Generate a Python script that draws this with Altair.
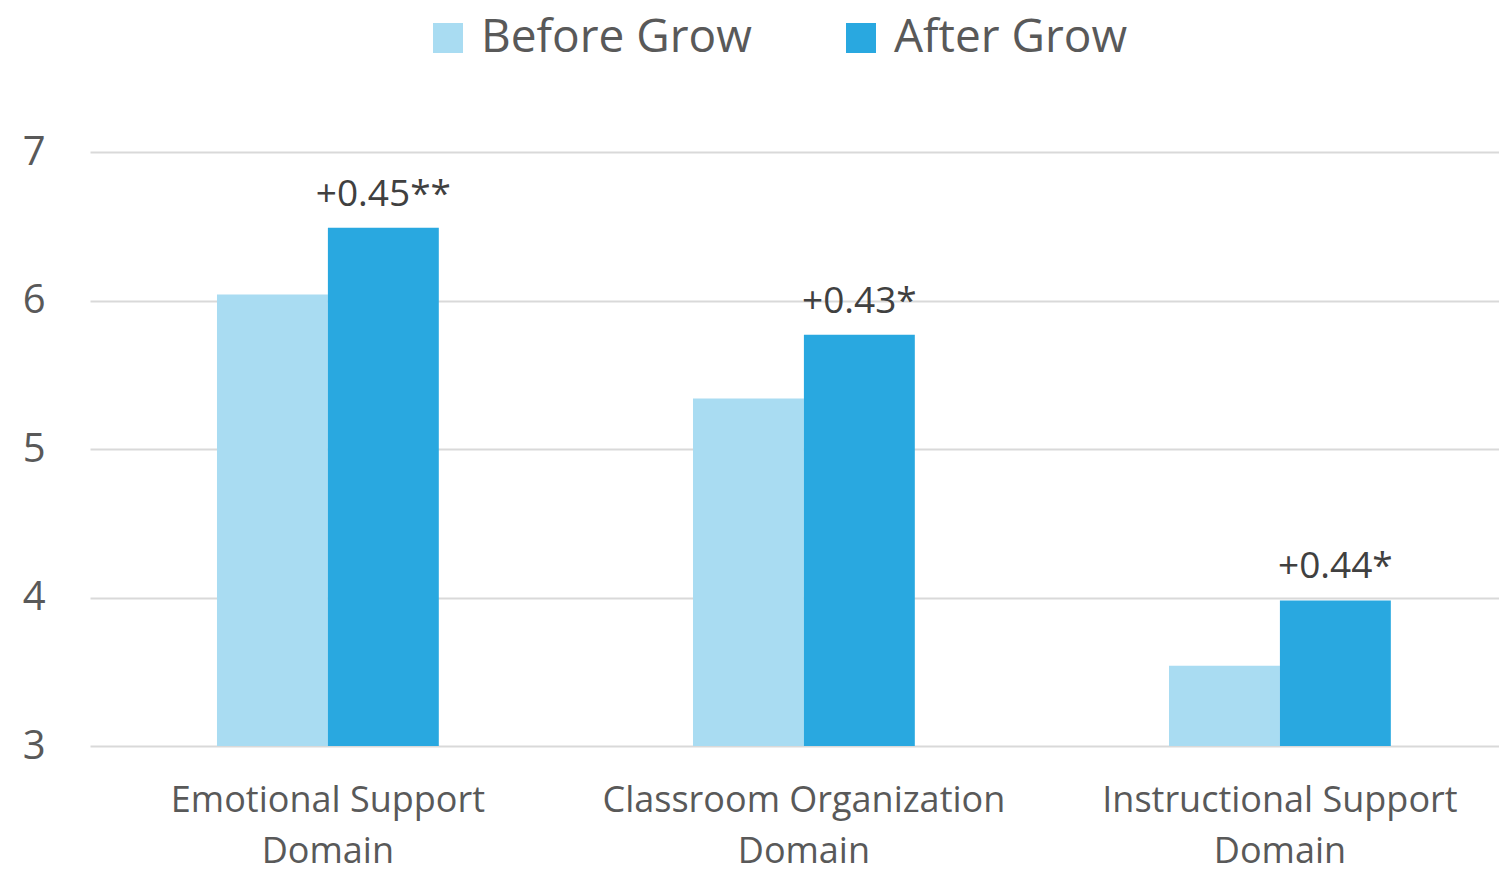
import altair as alt
import pandas as pd

categories = ["Emotional Support|Domain", "Classroom Organization|Domain", "Instructional Support|Domain"]
series = ["Before Grow", "After Grow"]
before = [6.04, 5.34, 3.54]
after = [6.49, 5.77, 3.98]
annotations = ["+0.45**", "+0.43*", "+0.44*"]
colors = ["#A9DCF2", "#29A8E0"]

rows = []
for c, b, a in zip(categories, before, after):
    rows.append({"cat": c, "series": series[0], "value": b})
    rows.append({"cat": c, "series": series[1], "value": a})
df = pd.DataFrame(rows)
ann = pd.DataFrame({"cat": categories, "series": [series[1]] * 3, "value": after, "label": annotations})

FONT = "Open Sans"
GRAY = "#595959"

x_enc = alt.X("cat:N", sort=categories, title=None,
              scale=alt.Scale(paddingInner=0.534, paddingOuter=0.247, align=0.54),
              axis=alt.Axis(labelExpr="split(datum.label, '|')", labelAngle=0,
                            labelFontSize=36, labelColor=GRAY, labelFont=FONT,
                            labelLineHeight=51, labelPadding=37, ticks=False,
                            labelLimit=0, domain=False, grid=False))
xoff = alt.XOffset("series:N", sort=series, scale=alt.Scale(domain=series, paddingInner=0, paddingOuter=0))
y_enc = alt.Y("value:Q", title=None,
              scale=alt.Scale(domain=[3, 7], nice=False, zero=False),
              axis=alt.Axis(values=[3, 4, 5, 6, 7], format="d", labelFontSize=40,
                            labelColor=GRAY, labelFont=FONT, labelPadding=45,
                            ticks=False, domain=False, gridColor="#D9D9D9",
                            gridWidth=2))

bars = alt.Chart(df).mark_bar(clip=True).encode(
    x=x_enc, xOffset=xoff, y=y_enc,
    color=alt.Color("series:N", sort=series,
                    scale=alt.Scale(domain=series, range=colors),
                    legend=alt.Legend(title=None, orient="none", legendX=335, legendY=-137,
                                      direction="horizontal", symbolType="square",
                                      symbolSize=900, symbolStrokeWidth=0,
                                      labelFontSize=46, labelColor=GRAY, labelFont=FONT,
                                      labelLimit=0,
                                      columnPadding=86, labelOffset=10, symbolOffset=0)),
)

text = alt.Chart(ann).mark_text(baseline="bottom", dy=-14, fontSize=37, color="#404040", font=FONT).encode(
    x=alt.X("cat:N", sort=categories), xOffset=xoff, y="value:Q", text="label:N",
)

chart = (bars + text).properties(
    width=1409, height=594,
    autosize=alt.AutoSizeParams(type="none"),
    padding={"left": 82, "top": 144, "right": 0, "bottom": 125},
).configure_view(stroke=None)

chart.save("out.html", embed_options={"renderer": "svg", "actions": False})
